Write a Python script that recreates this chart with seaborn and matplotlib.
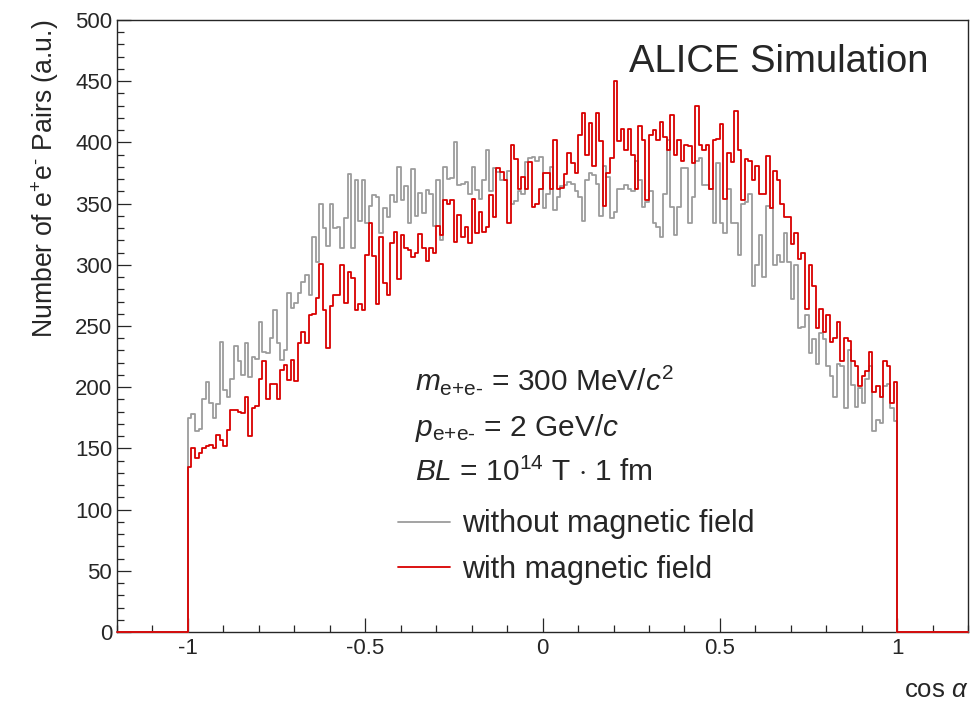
import numpy as np
import pandas as pd
import matplotlib
matplotlib.use('Agg')
import matplotlib.pyplot as plt
from matplotlib.ticker import MultipleLocator, FuncFormatter
import seaborn as sns

# cos(alpha) histogram, 200 bins of 0.01 between -1 and 1
cos_lo, cos_hi, n_bins = -1.0, 1.0, 200
x_range = (-1.2, 1.2)

# without magnetic field (grey)
n_no_field = [
    175, 178, 164, 166, 190, 204, 187, 175, 186, 237, 198, 192, 207, 234, 221, 210, 236, 208, 225, 223, 253, 229, 228, 240,
    263, 236, 222, 230, 277, 265, 269, 277, 286, 292, 275, 323, 302, 350, 330, 315, 350, 330, 331, 314, 338, 374, 314, 369, 336,
    369, 334, 348, 357, 355, 326, 346, 339, 357, 351, 380, 353, 364, 334, 378, 340, 359, 342, 361, 358, 332, 369, 320, 380, 370,
    371, 400, 365, 366, 368, 358, 380, 361, 354, 369, 394, 360, 379, 376, 369, 369, 377, 350, 352, 360, 358, 384, 387, 388, 385,
    388, 346, 358, 380, 345, 355, 364, 365, 368, 366, 360, 355, 336, 369, 375, 373, 366, 340, 381, 372, 338, 343, 362, 362, 365,
    362, 360, 385, 369, 347, 351, 360, 334, 331, 323, 358, 402, 347, 324, 347, 379, 379, 334, 355, 385, 387, 365, 365, 362, 334,
    383, 334, 326, 362, 334, 334, 308, 350, 351, 358, 283, 300, 324, 290, 348, 346, 300, 308, 302, 326, 302, 272, 300, 248, 249,
    259, 228, 239, 219, 244, 239, 217, 209, 192, 219, 217, 183, 230, 202, 184, 199, 187, 207, 217, 164, 173, 171, 201, 203, 183, 172,
]

# with magnetic field (red)
n_field = [
    135, 150, 142, 146, 150, 152, 153, 150, 161, 157, 152, 165, 181, 181, 180, 179, 192, 160, 183, 185, 207, 221, 190, 203,
    203, 190, 214, 218, 206, 222, 205, 236, 245, 236, 259, 260, 273, 301, 263, 232, 266, 275, 275, 300, 269, 294, 289, 263, 268,
    263, 308, 334, 307, 268, 323, 285, 275, 318, 327, 288, 324, 314, 312, 306, 310, 325, 314, 303, 314, 310, 332, 324, 353, 350,
    353, 319, 341, 323, 331, 318, 354, 326, 343, 327, 331, 357, 339, 379, 376, 369, 334, 398, 386, 362, 372, 362, 384, 347, 350,
    362, 375, 375, 362, 402, 362, 363, 374, 391, 383, 375, 406, 424, 390, 416, 381, 424, 401, 348, 375, 387, 450, 401, 411, 394,
    411, 390, 362, 413, 402, 353, 406, 410, 402, 417, 404, 394, 422, 390, 402, 385, 398, 397, 383, 430, 398, 394, 398, 362, 402,
    403, 415, 354, 391, 384, 426, 394, 353, 386, 385, 369, 381, 358, 358, 389, 346, 377, 369, 350, 339, 339, 317, 326, 305, 310,
    264, 300, 283, 248, 264, 245, 259, 237, 240, 253, 221, 240, 238, 221, 217, 201, 209, 213, 229, 196, 201, 192, 221, 217, 187, 204,
]

label_no_field = 'without magnetic field'
label_field = 'with magnetic field'

sns.set_style('ticks')
plt.rcParams['font.family'] = ['Liberation Sans', 'DejaVu Sans']
plt.rcParams['mathtext.fontset'] = 'custom'
plt.rcParams['mathtext.rm'] = 'Liberation Sans'
plt.rcParams['mathtext.it'] = 'Liberation Sans:italic'
plt.rcParams['mathtext.bf'] = 'Liberation Sans:bold'
plt.rcParams['axes.unicode_minus'] = False

width = (cos_hi - cos_lo) / n_bins
centers = cos_lo + width * (np.arange(n_bins) + 0.5)
df = pd.DataFrame({'cos': centers, 'no_field': n_no_field, 'field': n_field})
n_total = int(round((x_range[1] - x_range[0]) / width))

fig = plt.figure(figsize=(9.75, 7.11), dpi=100)
ax = fig.add_axes([0.12, 0.111, 0.873, 0.861])

# empty bins outside [-1, 1] give the zero line along the axis
sns.histplot(data=df, x='cos', weights='no_field', bins=n_total, binrange=x_range,
             element='step', fill=False, color='#9c9c9c', linewidth=1.3,
             label=label_no_field, ax=ax, zorder=3, clip_on=False)
sns.histplot(data=df, x='cos', weights='field', bins=n_total, binrange=x_range,
             element='step', fill=False, color='#d90000', linewidth=1.3,
             label=label_field, ax=ax, zorder=3, clip_on=False)

ax.set_xlim(*x_range)
ax.set_ylim(0, 500)

ax.xaxis.set_major_locator(MultipleLocator(0.5))
ax.xaxis.set_minor_locator(MultipleLocator(0.1))
ax.yaxis.set_major_locator(MultipleLocator(50))
ax.yaxis.set_minor_locator(MultipleLocator(10))
ax.xaxis.set_major_formatter(FuncFormatter(lambda v, p: '%g' % round(v, 3)))
ax.tick_params(which='both', direction='in', top=False, right=False, labelsize=16)
ax.tick_params(which='major', length=10, width=0.9)
ax.tick_params(which='minor', length=5, width=0.9)
ax.tick_params(axis='x', pad=4)
for s in ax.spines.values():
    s.set_visible(True)
    s.set_linewidth(1.0)

ax.set_xlabel(r'cos $\alpha$', fontsize=18.5, loc='right', labelpad=14)
ax.set_ylabel(r'Number of e$^{+}$e$^{\text{-}}$ Pairs (a.u.)', fontsize=19.2,
              loc='top', labelpad=10)

ax.text(0.953, 0.931, 'ALICE Simulation', transform=ax.transAxes,
        ha='right', va='center', fontsize=27.5)
ax.text(0.350, 0.412, r'$m_{\text{e+e-}}$ = 300 MeV/$c^{2}$', transform=ax.transAxes,
        ha='left', va='center', fontsize=21.5)
ax.text(0.350, 0.333, r'$p_{\text{e+e-}}$ = 2 GeV/$c$', transform=ax.transAxes,
        ha='left', va='center', fontsize=21.5)
ax.text(0.350, 0.261, r'$BL$ = 10$^{14}$ T $\cdot$ 1 fm', transform=ax.transAxes,
        ha='left', va='center', fontsize=21.5)

ax.legend(loc='center left', bbox_to_anchor=(0.330, 0.139), frameon=False,
          fontsize=22, handlelength=1.7, handletextpad=0.4, labelspacing=0.5,
          borderpad=0, borderaxespad=0)

fig.savefig('out.png', dpi=100)
